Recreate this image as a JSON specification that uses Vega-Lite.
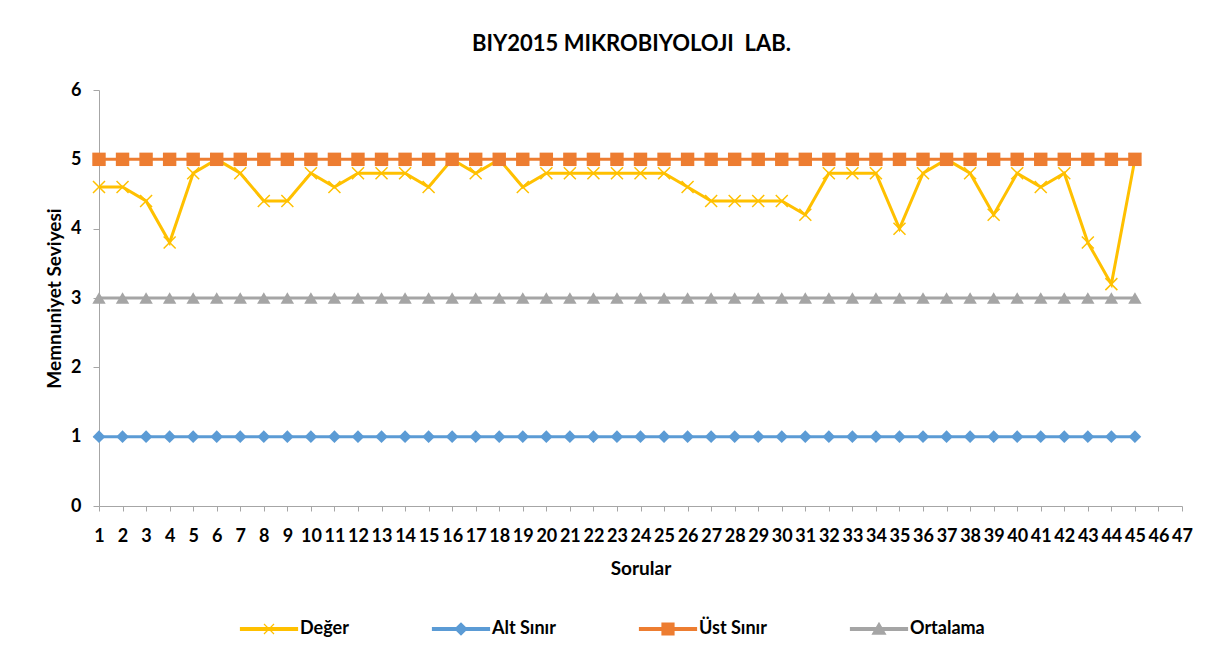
{
  "$schema": "https://vega.github.io/schema/vega-lite/v6.json",
  "width": 1083,
  "height": 416,
  "autosize": {"type": "none"},
  "padding": {"left": 99, "top": 90, "right": 37, "bottom": 162},
  "background": "white",
  "title": {"text": "BIY2015 MIKROBIYOLOJI\u00a0 LAB.", "font": "Lato", "fontSize": 22, "fontWeight": "bold", "color": "#000000", "offset": 25, "dx": -9, "anchor": "middle"},
  "config": {
    "view": {"stroke": null},
    "axis": {"domainColor": "#A6A6A6", "tickColor": "#A6A6A6", "grid": false, "labelFont": "Lato", "labelFontSize": 18, "labelFontWeight": "bold", "labelColor": "#000000", "titleFont": "Lato", "titleFontSize": 19, "titleFontWeight": "bold", "titleColor": "#000000"}
  },
  "data": {"values": [
    {"soru":1,"seri":"Değer","deger":4.6},{"soru":2,"seri":"Değer","deger":4.6},{"soru":3,"seri":"Değer","deger":4.4},{"soru":4,"seri":"Değer","deger":3.8},{"soru":5,"seri":"Değer","deger":4.8},
    {"soru":6,"seri":"Değer","deger":5},{"soru":7,"seri":"Değer","deger":4.8},{"soru":8,"seri":"Değer","deger":4.4},{"soru":9,"seri":"Değer","deger":4.4},{"soru":10,"seri":"Değer","deger":4.8},
    {"soru":11,"seri":"Değer","deger":4.6},{"soru":12,"seri":"Değer","deger":4.8},{"soru":13,"seri":"Değer","deger":4.8},{"soru":14,"seri":"Değer","deger":4.8},{"soru":15,"seri":"Değer","deger":4.6},
    {"soru":16,"seri":"Değer","deger":5},{"soru":17,"seri":"Değer","deger":4.8},{"soru":18,"seri":"Değer","deger":5},{"soru":19,"seri":"Değer","deger":4.6},{"soru":20,"seri":"Değer","deger":4.8},
    {"soru":21,"seri":"Değer","deger":4.8},{"soru":22,"seri":"Değer","deger":4.8},{"soru":23,"seri":"Değer","deger":4.8},{"soru":24,"seri":"Değer","deger":4.8},{"soru":25,"seri":"Değer","deger":4.8},
    {"soru":26,"seri":"Değer","deger":4.6},{"soru":27,"seri":"Değer","deger":4.4},{"soru":28,"seri":"Değer","deger":4.4},{"soru":29,"seri":"Değer","deger":4.4},{"soru":30,"seri":"Değer","deger":4.4},
    {"soru":31,"seri":"Değer","deger":4.2},{"soru":32,"seri":"Değer","deger":4.8},{"soru":33,"seri":"Değer","deger":4.8},{"soru":34,"seri":"Değer","deger":4.8},{"soru":35,"seri":"Değer","deger":4.0},
    {"soru":36,"seri":"Değer","deger":4.8},{"soru":37,"seri":"Değer","deger":5},{"soru":38,"seri":"Değer","deger":4.8},{"soru":39,"seri":"Değer","deger":4.2},{"soru":40,"seri":"Değer","deger":4.8},
    {"soru":41,"seri":"Değer","deger":4.6},{"soru":42,"seri":"Değer","deger":4.8},{"soru":43,"seri":"Değer","deger":3.8},{"soru":44,"seri":"Değer","deger":3.2},{"soru":45,"seri":"Değer","deger":5},
    {"soru":1,"seri":"Alt Sınır","deger":1},{"soru":2,"seri":"Alt Sınır","deger":1},{"soru":3,"seri":"Alt Sınır","deger":1},{"soru":4,"seri":"Alt Sınır","deger":1},{"soru":5,"seri":"Alt Sınır","deger":1},
    {"soru":6,"seri":"Alt Sınır","deger":1},{"soru":7,"seri":"Alt Sınır","deger":1},{"soru":8,"seri":"Alt Sınır","deger":1},{"soru":9,"seri":"Alt Sınır","deger":1},{"soru":10,"seri":"Alt Sınır","deger":1},
    {"soru":11,"seri":"Alt Sınır","deger":1},{"soru":12,"seri":"Alt Sınır","deger":1},{"soru":13,"seri":"Alt Sınır","deger":1},{"soru":14,"seri":"Alt Sınır","deger":1},{"soru":15,"seri":"Alt Sınır","deger":1},
    {"soru":16,"seri":"Alt Sınır","deger":1},{"soru":17,"seri":"Alt Sınır","deger":1},{"soru":18,"seri":"Alt Sınır","deger":1},{"soru":19,"seri":"Alt Sınır","deger":1},{"soru":20,"seri":"Alt Sınır","deger":1},
    {"soru":21,"seri":"Alt Sınır","deger":1},{"soru":22,"seri":"Alt Sınır","deger":1},{"soru":23,"seri":"Alt Sınır","deger":1},{"soru":24,"seri":"Alt Sınır","deger":1},{"soru":25,"seri":"Alt Sınır","deger":1},
    {"soru":26,"seri":"Alt Sınır","deger":1},{"soru":27,"seri":"Alt Sınır","deger":1},{"soru":28,"seri":"Alt Sınır","deger":1},{"soru":29,"seri":"Alt Sınır","deger":1},{"soru":30,"seri":"Alt Sınır","deger":1},
    {"soru":31,"seri":"Alt Sınır","deger":1},{"soru":32,"seri":"Alt Sınır","deger":1},{"soru":33,"seri":"Alt Sınır","deger":1},{"soru":34,"seri":"Alt Sınır","deger":1},{"soru":35,"seri":"Alt Sınır","deger":1},
    {"soru":36,"seri":"Alt Sınır","deger":1},{"soru":37,"seri":"Alt Sınır","deger":1},{"soru":38,"seri":"Alt Sınır","deger":1},{"soru":39,"seri":"Alt Sınır","deger":1},{"soru":40,"seri":"Alt Sınır","deger":1},
    {"soru":41,"seri":"Alt Sınır","deger":1},{"soru":42,"seri":"Alt Sınır","deger":1},{"soru":43,"seri":"Alt Sınır","deger":1},{"soru":44,"seri":"Alt Sınır","deger":1},{"soru":45,"seri":"Alt Sınır","deger":1},
    {"soru":1,"seri":"Üst Sınır","deger":5},{"soru":2,"seri":"Üst Sınır","deger":5},{"soru":3,"seri":"Üst Sınır","deger":5},{"soru":4,"seri":"Üst Sınır","deger":5},{"soru":5,"seri":"Üst Sınır","deger":5},
    {"soru":6,"seri":"Üst Sınır","deger":5},{"soru":7,"seri":"Üst Sınır","deger":5},{"soru":8,"seri":"Üst Sınır","deger":5},{"soru":9,"seri":"Üst Sınır","deger":5},{"soru":10,"seri":"Üst Sınır","deger":5},
    {"soru":11,"seri":"Üst Sınır","deger":5},{"soru":12,"seri":"Üst Sınır","deger":5},{"soru":13,"seri":"Üst Sınır","deger":5},{"soru":14,"seri":"Üst Sınır","deger":5},{"soru":15,"seri":"Üst Sınır","deger":5},
    {"soru":16,"seri":"Üst Sınır","deger":5},{"soru":17,"seri":"Üst Sınır","deger":5},{"soru":18,"seri":"Üst Sınır","deger":5},{"soru":19,"seri":"Üst Sınır","deger":5},{"soru":20,"seri":"Üst Sınır","deger":5},
    {"soru":21,"seri":"Üst Sınır","deger":5},{"soru":22,"seri":"Üst Sınır","deger":5},{"soru":23,"seri":"Üst Sınır","deger":5},{"soru":24,"seri":"Üst Sınır","deger":5},{"soru":25,"seri":"Üst Sınır","deger":5},
    {"soru":26,"seri":"Üst Sınır","deger":5},{"soru":27,"seri":"Üst Sınır","deger":5},{"soru":28,"seri":"Üst Sınır","deger":5},{"soru":29,"seri":"Üst Sınır","deger":5},{"soru":30,"seri":"Üst Sınır","deger":5},
    {"soru":31,"seri":"Üst Sınır","deger":5},{"soru":32,"seri":"Üst Sınır","deger":5},{"soru":33,"seri":"Üst Sınır","deger":5},{"soru":34,"seri":"Üst Sınır","deger":5},{"soru":35,"seri":"Üst Sınır","deger":5},
    {"soru":36,"seri":"Üst Sınır","deger":5},{"soru":37,"seri":"Üst Sınır","deger":5},{"soru":38,"seri":"Üst Sınır","deger":5},{"soru":39,"seri":"Üst Sınır","deger":5},{"soru":40,"seri":"Üst Sınır","deger":5},
    {"soru":41,"seri":"Üst Sınır","deger":5},{"soru":42,"seri":"Üst Sınır","deger":5},{"soru":43,"seri":"Üst Sınır","deger":5},{"soru":44,"seri":"Üst Sınır","deger":5},{"soru":45,"seri":"Üst Sınır","deger":5},
    {"soru":1,"seri":"Ortalama","deger":3},{"soru":2,"seri":"Ortalama","deger":3},{"soru":3,"seri":"Ortalama","deger":3},{"soru":4,"seri":"Ortalama","deger":3},{"soru":5,"seri":"Ortalama","deger":3},
    {"soru":6,"seri":"Ortalama","deger":3},{"soru":7,"seri":"Ortalama","deger":3},{"soru":8,"seri":"Ortalama","deger":3},{"soru":9,"seri":"Ortalama","deger":3},{"soru":10,"seri":"Ortalama","deger":3},
    {"soru":11,"seri":"Ortalama","deger":3},{"soru":12,"seri":"Ortalama","deger":3},{"soru":13,"seri":"Ortalama","deger":3},{"soru":14,"seri":"Ortalama","deger":3},{"soru":15,"seri":"Ortalama","deger":3},
    {"soru":16,"seri":"Ortalama","deger":3},{"soru":17,"seri":"Ortalama","deger":3},{"soru":18,"seri":"Ortalama","deger":3},{"soru":19,"seri":"Ortalama","deger":3},{"soru":20,"seri":"Ortalama","deger":3},
    {"soru":21,"seri":"Ortalama","deger":3},{"soru":22,"seri":"Ortalama","deger":3},{"soru":23,"seri":"Ortalama","deger":3},{"soru":24,"seri":"Ortalama","deger":3},{"soru":25,"seri":"Ortalama","deger":3},
    {"soru":26,"seri":"Ortalama","deger":3},{"soru":27,"seri":"Ortalama","deger":3},{"soru":28,"seri":"Ortalama","deger":3},{"soru":29,"seri":"Ortalama","deger":3},{"soru":30,"seri":"Ortalama","deger":3},
    {"soru":31,"seri":"Ortalama","deger":3},{"soru":32,"seri":"Ortalama","deger":3},{"soru":33,"seri":"Ortalama","deger":3},{"soru":34,"seri":"Ortalama","deger":3},{"soru":35,"seri":"Ortalama","deger":3},
    {"soru":36,"seri":"Ortalama","deger":3},{"soru":37,"seri":"Ortalama","deger":3},{"soru":38,"seri":"Ortalama","deger":3},{"soru":39,"seri":"Ortalama","deger":3},{"soru":40,"seri":"Ortalama","deger":3},
    {"soru":41,"seri":"Ortalama","deger":3},{"soru":42,"seri":"Ortalama","deger":3},{"soru":43,"seri":"Ortalama","deger":3},{"soru":44,"seri":"Ortalama","deger":3},{"soru":45,"seri":"Ortalama","deger":3}
  ]},
  "encoding": {
    "x": {"field": "soru", "type": "quantitative", "scale": {"domain": [1, 47], "nice": false, "zero": false},
      "axis": {"title": "Sorular", "values": [1,2,3,4,5,6,7,8,9,10,11,12,13,14,15,16,17,18,19,20,21,22,23,24,25,26,27,28,29,30,31,32,33,34,35,36,37,38,39,40,41,42,43,44,45,46,47], "format": "d", "tickSize": 5, "labelPadding": 16, "titlePadding": 14, "labelOverlap": false, "labelFlush": false}},
    "y": {"field": "deger", "type": "quantitative", "scale": {"domain": [0, 6], "nice": false},
      "axis": {"title": "Memnuniyet Seviyesi", "values": [0,1,2,3,4,5,6], "tickSize": 6, "labelPadding": 12, "titlePadding": 6}}
  },
  "layer": [
    {
      "mark": {"type": "line", "strokeWidth": 3},
      "encoding": {
        "color": {"field": "seri", "type": "nominal",
          "scale": {"domain": ["Değer", "Alt Sınır", "Üst Sınır", "Ortalama"], "range": ["#FFC000", "#5B9BD5", "#ED7D31", "#A5A5A5"]},
          "legend": {
            "orient": "none", "legendX": 139, "legendY": 508, "direction": "horizontal", "title": null,
            "symbolSize": 3600, "labelOffset": 0, "columnPadding": 81, "padding": 0,
            "labelFont": "Lato", "labelFontSize": 18, "labelFontWeight": "bold", "labelColor": "#000000",
            "encode": {"symbols": {"update": {
              "shape": {"signal": "datum.value === 'Değer' ? 'M-0.95,-0.05L0.95,-0.05L0.95,0.05L-0.95,0.05ZM-0.167,-0.167L0.167,0.167M-0.167,0.167L0.167,-0.167' : datum.value === 'Alt Sınır' ? 'M-0.95,-0.05L0.95,-0.05L0.95,0.05L-0.95,0.05ZM-0.2,0L0,-0.2L0.2,0L0,0.2Z' : datum.value === 'Üst Sınır' ? 'M-0.95,-0.05L0.95,-0.05L0.95,0.05L-0.95,0.05ZM-0.2,-0.2L0.2,-0.2L0.2,0.2L-0.2,0.2Z' : 'M-0.95,-0.05L0.95,-0.05L0.95,0.05L-0.95,0.05ZM-0.217,0.17L0,-0.2L0.217,0.17Z'"},
              "size": {"value": 3600},
              "fill": {"scale": "color", "field": "value"},
              "stroke": {"scale": "color", "field": "value"},
              "strokeWidth": {"value": 1.2},
              "opacity": {"value": 1}
            }}}
          }
        }
      }
    },
    {
      "transform": [{"filter": "datum.seri === 'Değer'"}],
      "mark": {"type": "point", "shape": "M-1,-1L1,1M-1,1L1,-1", "size": 144, "filled": false, "opacity": 1, "strokeWidth": 1.5, "color": "#FFC000"}
    },
    {
      "transform": [{"filter": "datum.seri === 'Alt Sınır'"}],
      "mark": {"type": "point", "shape": "diamond", "size": 160, "filled": true, "opacity": 1, "color": "#5B9BD5"}
    },
    {
      "transform": [{"filter": "datum.seri === 'Üst Sınır'"}],
      "mark": {"type": "point", "shape": "square", "size": 180, "filled": true, "opacity": 1, "color": "#ED7D31"}
    },
    {
      "transform": [{"filter": "datum.seri === 'Ortalama'"}],
      "mark": {"type": "point", "shape": "triangle-up", "size": 180, "filled": true, "opacity": 1, "color": "#A5A5A5"}
    }
  ]
}
